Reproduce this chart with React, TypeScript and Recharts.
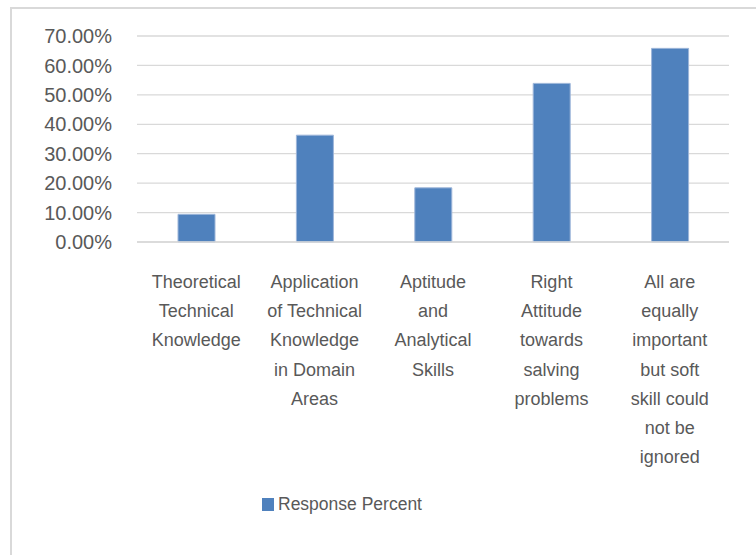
import { BarChart, Bar, XAxis, YAxis, CartesianGrid, Legend } from "recharts";

// chart values
const categories = [
  "Theoretical Technical Knowledge",
  "Application of Technical Knowledge in Domain Areas",
  "Aptitude and Analytical Skills",
  "Right Attitude towards salving problems",
  "All are equally important but soft skill could not be ignored",
];
const categoryLines = [
  ["Theoretical", "Technical", "Knowledge"],
  ["Application", "of Technical", "Knowledge", "in Domain", "Areas"],
  ["Aptitude", "and", "Analytical", "Skills"],
  ["Right", "Attitude", "towards", "salving", "problems"],
  ["All are", "equally", "important", "but soft", "skill could", "not be", "ignored"],
];
const responsePercent = [0.094, 0.363, 0.184, 0.539, 0.658];
const yTicks = [0, 0.1, 0.2, 0.3, 0.4, 0.5, 0.6, 0.7];

const data = categories.map((name, i) => ({ name, value: responsePercent[i] }));

const TEXT = "#595959";
const GRID = "#d9d9d9";
const BLUE = "#4f81bd";
const FONT = "'Liberation Sans', Arial, sans-serif";

function CategoryTick(props: any) {
  const { x, y, index } = props;
  const lines = categoryLines[index] || [];
  return (
    <text x={x} y={y + 46} textAnchor="middle" fill={TEXT} fontSize={18} fontFamily={FONT}>
      {lines.map((l, i) => (
        <tspan key={i} x={x} dy={i === 0 ? 0 : 29.2}>
          {l}
        </tspan>
      ))}
    </text>
  );
}

function LegendBox() {
  return (
    <div style={{ display: "flex", alignItems: "center", fontFamily: FONT, fontSize: 17.5, color: TEXT }}>
      <span style={{ display: "inline-block", width: 12, height: 13, background: BLUE, marginRight: 4 }} />
      <span>Response Percent</span>
    </div>
  );
}

export default function App() {
  return (
    <div style={{ position: "fixed", left: 0, top: 0, width: 756, height: 555, overflow: "hidden", background: "#fff" }}>
      <div
        style={{
          position: "absolute",
          left: 10,
          top: 7,
          width: 800,
          height: 600,
          border: `2px solid ${GRID}`,
          boxSizing: "border-box",
        }}
      />
      <div style={{ position: "absolute", left: 0, top: 0 }}>
        <BarChart width={756} height={555} data={data} margin={{ top: 36, right: 27, left: 0, bottom: 0 }} barSize={37}>
          <CartesianGrid vertical={false} stroke={GRID} strokeWidth={1.3} />
          <XAxis
            dataKey="name"
            height={313}
            axisLine={{ stroke: GRID, strokeWidth: 1.3 }}
            tickLine={false}
            tickSize={0}
            tickMargin={0}
            interval={0}
            tick={<CategoryTick />}
          />
          <YAxis
            width={137}
            domain={[0, 0.7]}
            ticks={yTicks}
            interval={0}
            axisLine={false}
            tickLine={false}
            tickSize={0}
            tickMargin={25}
            tickFormatter={(v: number) => (v * 100).toFixed(2) + "%"}
            tick={{ fill: TEXT, fontSize: 20, fontFamily: FONT }}
          />
          <Legend
            layout="horizontal"
            verticalAlign="middle"
            align="center"
            wrapperStyle={{ left: 262, top: 494, width: "auto" }}
            content={<LegendBox />}
          />
          <Bar dataKey="value" fill={BLUE} stroke="#9db6d9" strokeWidth={1} isAnimationActive={false} />
        </BarChart>
      </div>
    </div>
  );
}
